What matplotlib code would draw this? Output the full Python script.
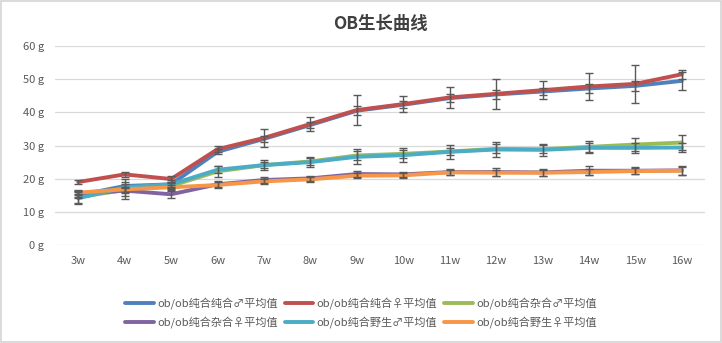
import matplotlib
matplotlib.use("Agg")
import matplotlib.pyplot as plt
from matplotlib.patches import Rectangle

plt.rcParams['font.family'] = ['Noto Sans CJK SC', 'DejaVu Sans']

weeks = ["3w", "4w", "5w", "6w", "7w", "8w", "9w", "10w", "11w", "12w", "13w", "14w", "15w", "16w"]
yticks = [0, 10, 20, 30, 40, 50, 60]
ytick_labels = ["0 g", "10 g", "20 g", "30 g", "40 g", "50 g", "60 g"]

names = ["ob/ob纯合纯合♂平均值", "ob/ob纯合纯合♀平均值", "ob/ob纯合杂合♂平均值",
         "ob/ob纯合杂合♀平均值", "ob/ob纯合野生♂平均值", "ob/ob纯合野生♀平均值"]

hom_m = [15.0, 17.8, 18.3, 28.1, 32.0, 36.2, 40.5, 42.3, 44.3, 45.4, 46.3, 47.2, 48.0, 49.5]
hom_f = [19.0, 21.3, 19.9, 28.9, 32.3, 36.5, 40.7, 42.5, 44.5, 45.6, 46.7, 47.8, 48.6, 51.5]
het_m = [14.4, 16.6, 17.8, 22.2, 24.1, 25.2, 27.0, 27.5, 28.2, 29.0, 28.9, 29.6, 30.3, 30.9]
het_f = [15.3, 16.4, 15.3, 18.3, 19.6, 20.1, 21.4, 21.3, 22.0, 22.0, 21.9, 22.4, 22.4, 22.5]
wt_m = [14.1, 17.4, 18.3, 22.7, 24.1, 25.0, 26.6, 27.1, 28.1, 28.8, 28.7, 29.3, 29.3, 29.4]
wt_f = [15.8, 16.8, 17.4, 18.1, 19.2, 19.8, 20.9, 21.0, 21.9, 21.8, 21.8, 22.0, 22.3, 22.4]

hom_m_err = [0.5, 0.6, 0.8, 0.8, 1.0, 1.0, 1.3, 1.0, 1.2, 1.5, 1.0, 1.5, 1.5, 2.6]
hom_f_err = [0.65, 0.75, 0.85, 0.9, 2.75, 2.05, 4.6, 2.4, 3.1, 4.5, 2.7, 4.0, 5.8, 1.4]
het_m_err = [1.8, 1.0, 1.0, 1.65, 1.0, 1.0, 1.3, 1.2, 1.2, 1.4, 1.2, 1.7, 2.0, 2.2]
het_f_err = [1.0, 2.5, 1.0, 0.9, 0.9, 0.8, 1.0, 0.85, 0.9, 1.1, 1.1, 1.3, 1.1, 1.4]
wt_m_err = [1.8, 2.5, 1.2, 1.0, 1.5, 1.6, 2.25, 2.2, 2.1, 2.4, 1.85, 1.5, 1.5, 1.5]
wt_f_err = [0.8, 0.8, 0.8, 0.8, 0.8, 0.7, 0.8, 0.7, 0.8, 0.9, 0.9, 1.0, 1.0, 1.2]

colors = ["#4F81BD", "#C0504D", "#9BBB59", "#8064A2", "#4BACC6", "#F79646"]
series = [hom_m, hom_f, het_m, het_f, wt_m, wt_f]
errors = [hom_m_err, hom_f_err, het_m_err, het_f_err, wt_m_err, wt_f_err]

fig = plt.figure(figsize=(7.22, 3.43), dpi=100)
fig.patches.append(Rectangle((0.002, 0.003), 0.996, 0.994, transform=fig.transFigure,
                             fill=False, edgecolor="#D4D4D4", linewidth=1.2))
ax = fig.add_axes([0.0762, 0.2857, 0.9003, 0.580])

x = list(range(len(weeks)))
order = [2, 4, 3, 5, 0, 1]
handles = {}
for i in order:
    ln, = ax.plot(x, series[i], color=colors[i], linewidth=2.8, label=names[i], zorder=3 + i * 0.1,
                  solid_capstyle='round')
    handles[i] = ln
for i in order:
    ax.errorbar(x, series[i], yerr=errors[i], fmt='none', ecolor="#595959",
                elinewidth=1.0, capsize=2.8, capthick=1.0, zorder=5)

ax.set_xlim(-0.5, len(weeks) - 0.5)
ax.set_ylim(0, 60)
ax.set_yticks(yticks)
ax.set_yticklabels(ytick_labels)
ax.set_xticks(x)
ax.set_xticklabels(weeks)
ax.grid(axis='y', color="#D9D9D9", linewidth=0.9)
ax.set_axisbelow(True)
for s in ax.spines.values():
    s.set_visible(False)
ax.tick_params(length=0, labelsize=8, colors="#595959", pad=8)
ax.tick_params(axis='x', pad=8)

ax.set_title("OB生长曲线", fontsize=12.5, fontweight='bold', color="#404040", pad=12)

# matplotlib fills legend columns first; reorder so rows read as in the reference
leg_order = [0, 3, 1, 4, 2, 5]
leg = fig.legend([handles[i] for i in leg_order], [names[i] for i in leg_order],
                 loc='center', ncol=3,
                 bbox_to_anchor=(0.5, 0.088), frameon=False, fontsize=8,
                 handlelength=2.6, columnspacing=0.6, handletextpad=0.3, labelspacing=0.6)
for t in leg.get_texts():
    t.set_color("#595959")

fig.savefig("out.png", dpi=100)
